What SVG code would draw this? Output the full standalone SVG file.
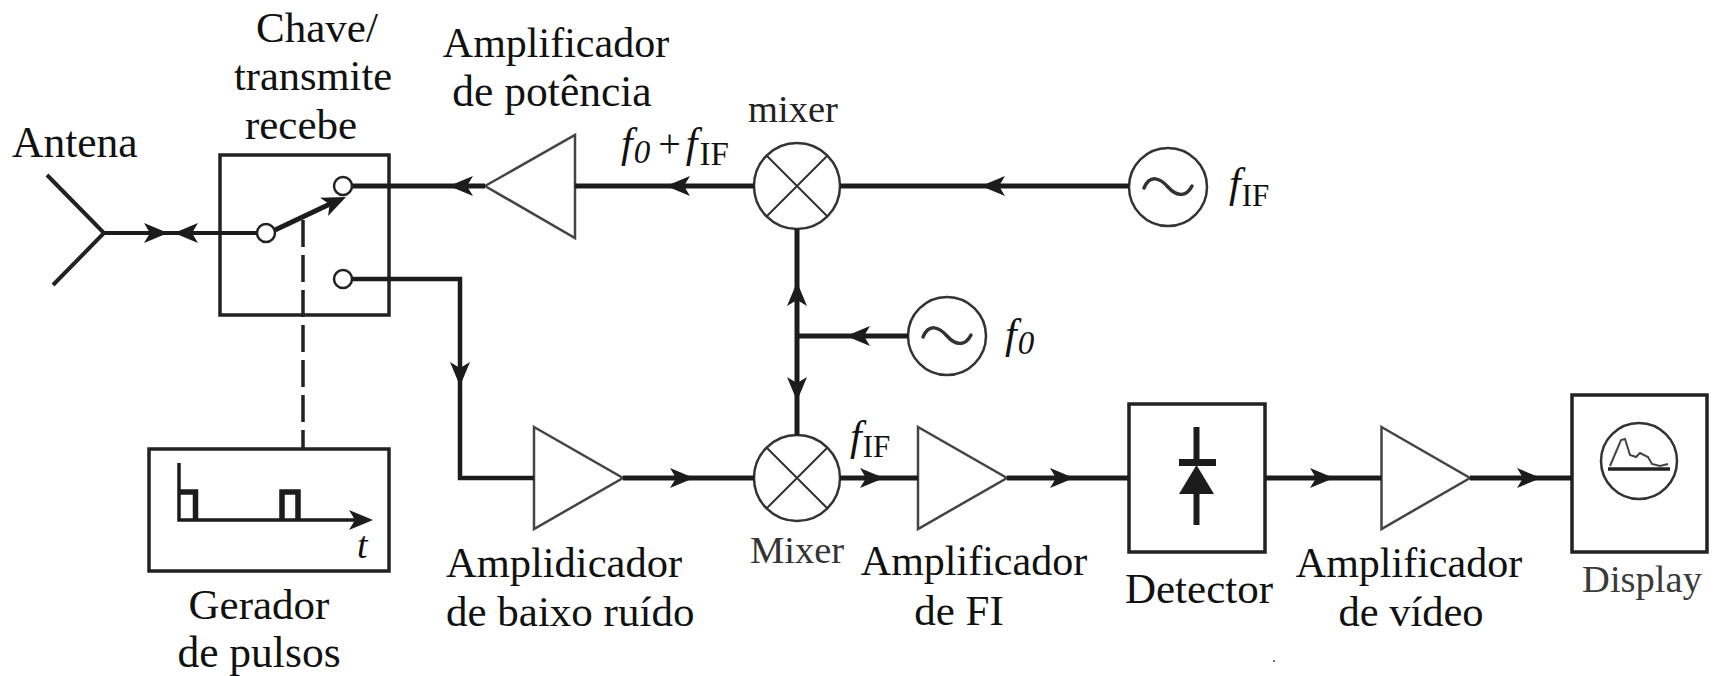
<svg xmlns="http://www.w3.org/2000/svg" width="1717" height="676" viewBox="0 0 1717 676">
<style>
text{font-family:"Liberation Serif","Times New Roman",serif;font-size:43px;fill:#111}
.m{text-anchor:middle}
.i{font-style:italic}
.amp{font-size:42px}
.f{font-size:42px;font-style:italic}
.z{font-size:33px}
.r{font-size:31px;font-style:normal}
.box{fill:#fff;stroke:#222;stroke-width:3.500}
.tri{fill:#fff;stroke:#444;stroke-width:2.500}
.circ{fill:#fff;stroke:#333;stroke-width:2.500}
.x{fill:none;stroke:#333;stroke-width:2}
.port{fill:#fff;stroke:#222;stroke-width:2.500}
.w3{fill:none;stroke:#1c1c1c;stroke-width:4.500}
.w4{fill:none;stroke:#1c1c1c;stroke-width:5}
.sig{fill:none;stroke:#333;stroke-width:3.500;stroke-linecap:round}
</style>
<defs>
<path id="ah" d="M0 0L-24 -10L-18 0L-24 10Z" fill="#1c1c1c"/>
</defs>
<g id="antena">
<path d="M47 175L104 233L53 285" fill="none" stroke="#222" stroke-width="4"/>
<text x="12" y="157" style="font-size:43.500px">Antena</text>
</g>
<g id="chave">
<rect class="box" x="220" y="155" width="169" height="160"/>
<circle class="port" cx="343" cy="279" r="9"/>
<path class="w4" d="M275 230L330 204"/>
<use href="#ah" transform="translate(346 197) rotate(-24)"/>
<text class="m" x="317" y="42">Chave/</text>
<text class="m" x="313" y="90" style="font-size:42.500px">transmite</text>
<text class="m" x="301" y="139">recebe</text>
</g>
<g id="gerador">
<rect class="box" x="149" y="449" width="240" height="122"/>
<path class="w3" d="M179 463V520H358" style="stroke-width:3.500"/>
<path class="w4" d="M179 492H195.500V520M282 520V492H298V520" style="stroke-width:5.500"/>
<use href="#ah" transform="translate(373 520)"/>
<text class="i" x="357" y="558" style="font-size:38px">t</text>
<text class="m" x="259" y="619">Gerador</text>
<text class="m" x="259" y="667" style="font-size:43.500px">de pulsos</text>
</g>
<g id="amp-potencia">
<path class="tri" d="M485 186L575 135V238Z"/>
<text class="m amp" x="556" y="57">Amplificador</text>
<text class="m" x="552" y="106" style="font-size:43.500px">de potência</text>
</g>
<g id="mixer-top">
<circle class="circ" cx="797" cy="186" r="43"/>
<path class="x" d="M767 156L827 216M827 156L767 216"/>
<text class="m" x="793" y="122" style="font-size:38.500px;fill:#222">mixer</text>
<text class="f" x="621" y="157">f<tspan class="z" dy="6" dx="1">0</tspan><tspan dy="-6" dx="8" style="font-style:normal;font-size:40px">+</tspan><tspan dx="5">f</tspan><tspan class="r" dy="8" dx="2" style="font-size:33px">IF</tspan></text>
</g>
<g id="osc-fif">
<circle class="circ" cx="1168" cy="187" r="39"/>
<path class="sig" d="M1144 188C1150 174 1160 178 1168 187C1176 196 1186 198 1192 186"/>
<text class="f" x="1229" y="197">f<tspan class="r" dy="9" dx="1">IF</tspan></text>
</g>
<g id="osc-f0">
<circle class="circ" cx="947" cy="336" r="39"/>
<path class="sig" d="M923 337C929 323 939 327 947 336C955 345 965 347 971 335"/>
<text class="f" x="1005" y="348">f<tspan class="z" dy="6" dx="1">0</tspan></text>
</g>
<g id="lna">
<path class="tri" d="M534 427L623 478L534 529Z"/>
<text x="446" y="577" style="font-size:42.500px">Amplidicador</text>
<text x="446" y="626">de baixo ruído</text>
</g>
<g id="mixer-bottom">
<circle class="circ" cx="797" cy="478" r="43"/>
<path class="x" d="M767 448L827 508M827 448L767 508"/>
<text class="m" x="797" y="563" style="font-size:38.500px;fill:#333">Mixer</text>
<text class="f" x="850" y="450">f<tspan class="r" dy="7" dx="1">IF</tspan></text>
</g>
<g id="amp-fi">
<path class="tri" d="M918 427L1007 478L918 529Z"/>
<text class="m amp" x="974" y="575">Amplificador</text>
<text class="m" x="959" y="625">de FI</text>
</g>
<g id="detector">
<rect class="box" x="1129" y="404" width="136" height="148"/>
<path d="M1196.500 427V460M1196.500 494V525" fill="none" stroke="#1c1c1c" stroke-width="6"/>
<rect x="1179" y="459" width="37" height="7" fill="#1c1c1c"/>
<path d="M1196.500 465L1214 494H1179Z" fill="#1c1c1c"/>
<text class="m" x="1199" y="603">Detector</text>
</g>
<g id="amp-video">
<path class="tri" d="M1381.500 427L1470 478L1381.500 529Z"/>
<text class="m amp" x="1409" y="577">Amplificador</text>
<text class="m" x="1411" y="626" style="font-size:42.500px">de vídeo</text>
</g>
<g id="display">
<rect class="box" x="1572" y="395" width="135" height="157"/>
<circle class="circ" cx="1639" cy="461" r="38"/>
<path d="M1608 469H1670" fill="none" stroke="#222" stroke-width="3.500"/>
<path d="M1610 466L1621 440L1625 439L1630 455L1636 457L1640 453L1648 457L1652 464L1660 466L1668 464" fill="none" stroke="#444" stroke-width="2"/>
<text class="m" x="1642" y="592" style="font-size:38.500px;fill:#3a3a3a">Display</text>
</g>
<g id="connectors">
<path class="w3" d="M104 233H257" style="stroke-width:4"/>
<path class="w4" d="M352 186H485"/>
<path class="w4" d="M575 186H754"/>
<path class="w4" d="M840 186H1129"/>
<path class="w4" d="M797 229V435"/>
<path class="w4" d="M797 336H908"/>
<path class="w3" d="M352 279H460V478H534"/>
<path class="w4" d="M623 478H754"/>
<path class="w4" d="M840 478H918"/>
<path class="w4" d="M1007 478H1129"/>
<path class="w4" d="M1265 478H1381.500"/>
<path class="w4" d="M1470 478H1572"/>
<path d="M303 220V448" fill="none" stroke="#222" stroke-width="3.500" stroke-dasharray="27 8"/>
<circle class="port" cx="266" cy="233" r="9"/>
<circle class="port" cx="343" cy="186" r="9"/>
<use href="#ah" transform="translate(168 233)"/>
<use href="#ah" transform="translate(174 233) rotate(180)"/>
<use href="#ah" transform="translate(449 186) rotate(180)"/>
<use href="#ah" transform="translate(666 186) rotate(180)"/>
<use href="#ah" transform="translate(981 186) rotate(180)"/>
<use href="#ah" transform="translate(846 336) rotate(180)"/>
<use href="#ah" transform="translate(797 282) rotate(-90)"/>
<use href="#ah" transform="translate(797 401) rotate(90)"/>
<use href="#ah" transform="translate(460 386) rotate(90)"/>
<use href="#ah" transform="translate(694 478)"/>
<use href="#ah" transform="translate(884 478)"/>
<use href="#ah" transform="translate(1074 478)"/>
<use href="#ah" transform="translate(1334 478)"/>
<use href="#ah" transform="translate(1541 478)"/>
</g>
<circle cx="1274" cy="661" r="1" fill="#444"/>
</svg>
